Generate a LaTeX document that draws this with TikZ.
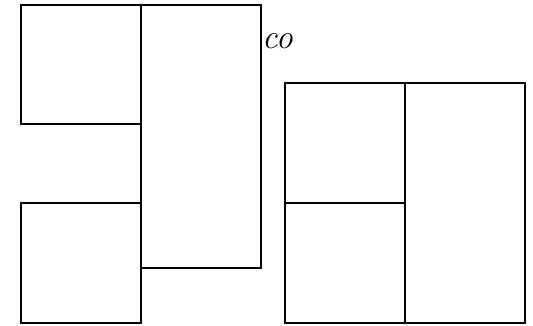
\documentclass[tikz,border=0pt]{standalone}
\usetikzlibrary{positioning}

\begin{document}
\begin{tikzpicture}[
  x=1pt, y=-1pt,
  cell/.style={draw, line width=1.6pt, inner sep=0pt, outer sep=0pt,
    anchor=north west, minimum width=120pt},
  word/.style={inner sep=0pt, anchor=west, font=\fontsize{34}{34}\selectfont\itshape}
]
\useasboundingbox (0,0) rectangle (533,326);

%================================================
% LEFT GROUP
%================================================
\node[cell, minimum height=119pt] (sqTop) at (21,5) {};
\node[cell, minimum height=263pt] (tall) at (141,5) {};
\node[cell, minimum height=120pt] (sqBot) at (21,203) {};

% label beside the tall box
\node[word] (lbl) at (262,41) {co};

%================================================
% RIGHT GROUP
%================================================
\node[cell, minimum height=120pt] (rUp) at (285,83) {};
\node[cell, minimum height=120pt] (rLow) at (285,203) {};
\node[cell, minimum height=240pt] (rSide) at (405,83) {};

\end{tikzpicture}
\end{document}
